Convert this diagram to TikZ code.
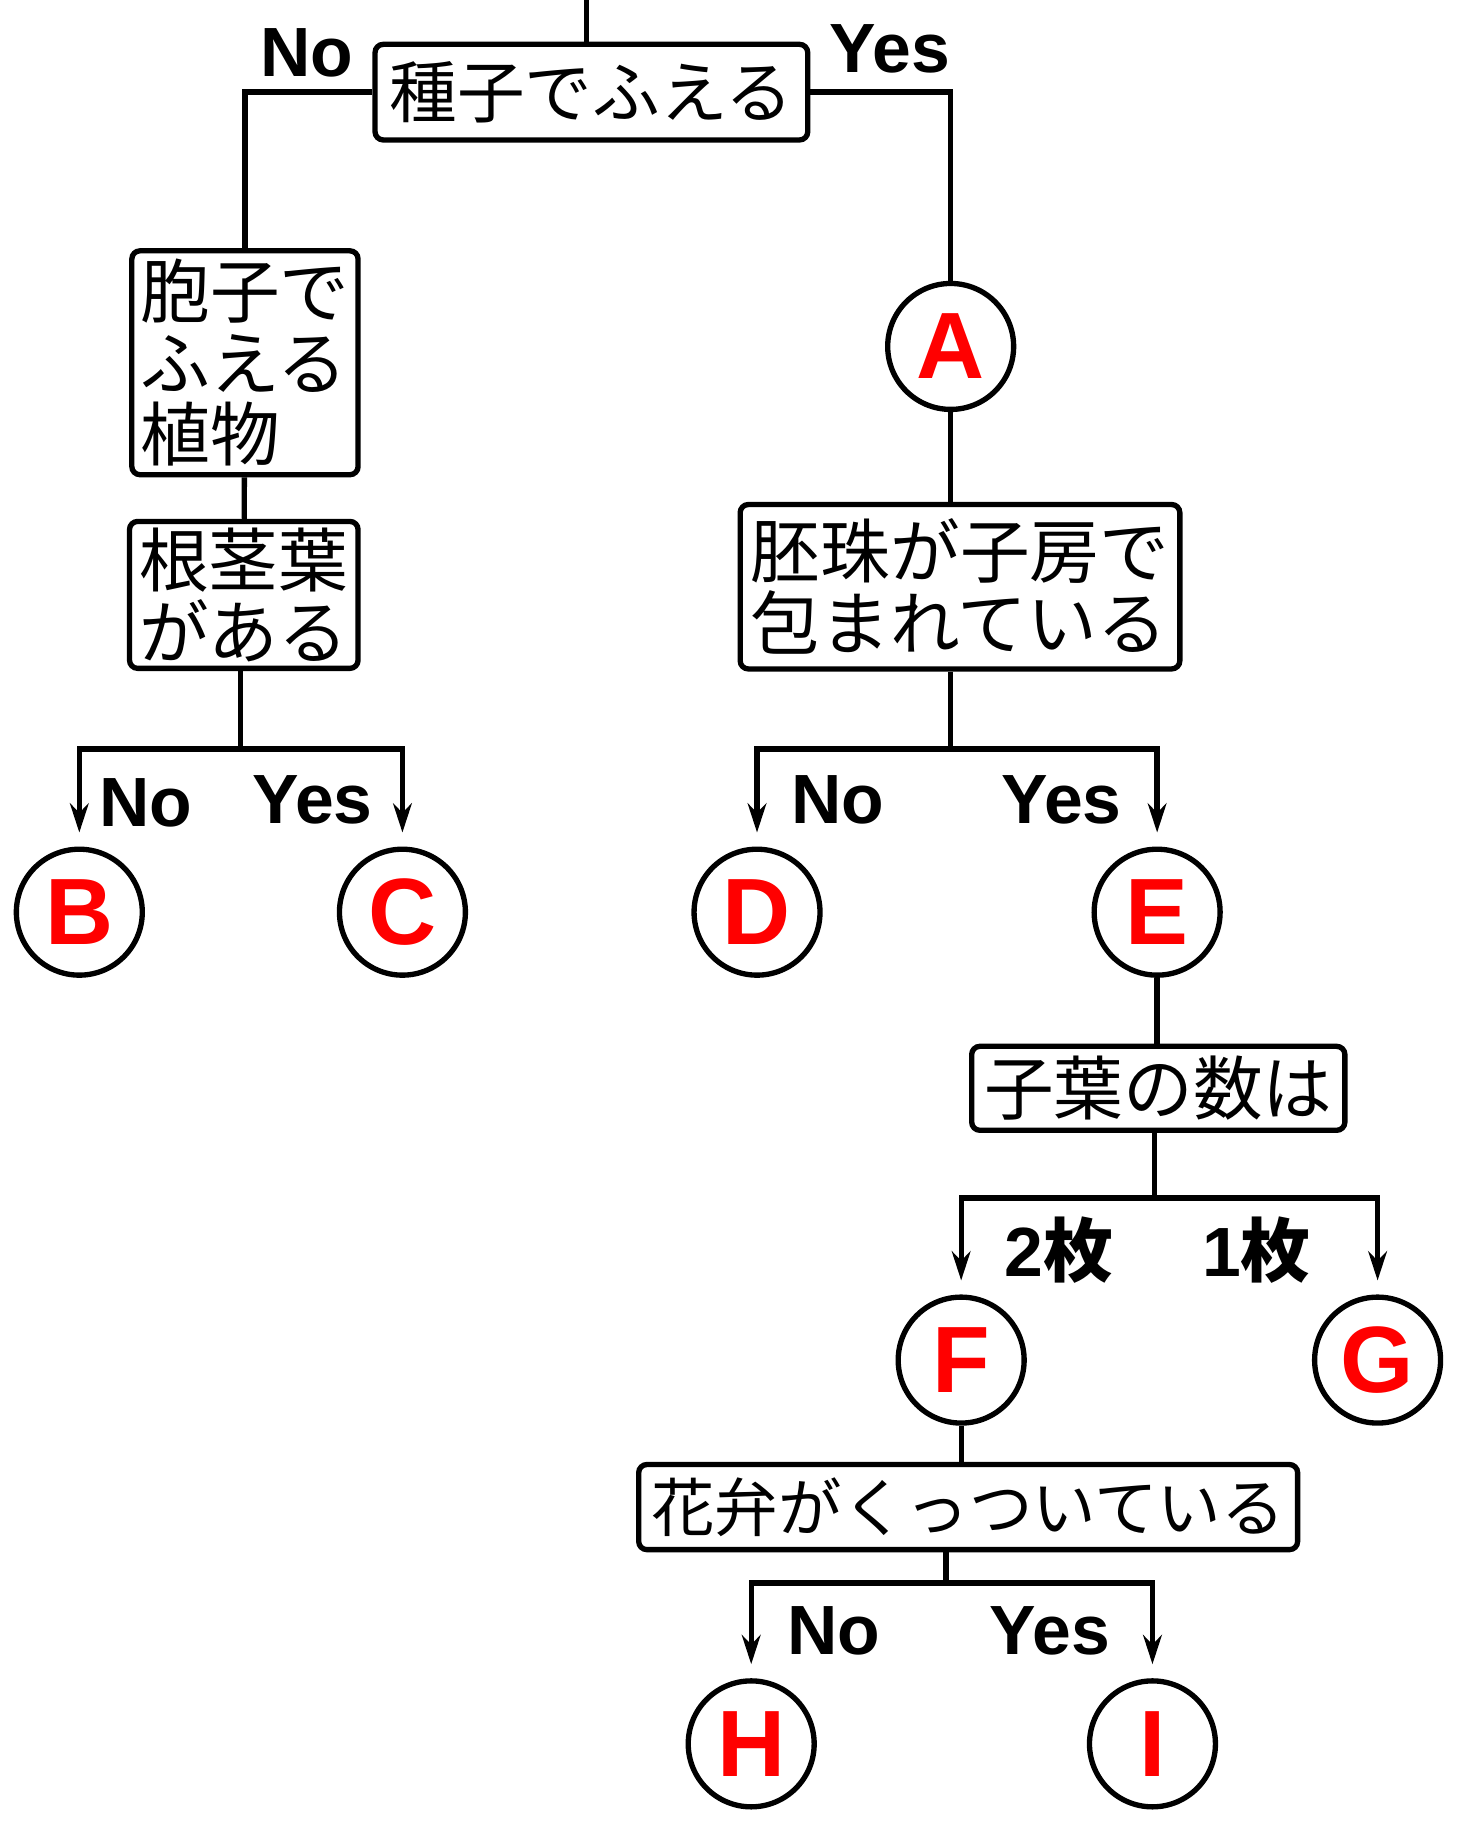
\documentclass[tikz,border=0pt]{standalone}
\usepackage{fontspec}
\setsansfont{Liberation Sans}
\newfontfamily\jpfont{Noto Sans CJK JP}
\usetikzlibrary{arrows.meta, positioning}
\tikzset{
  >={Stealth[length=0.5cm,width=0.32cm]},
  wire/.style={line width=2.6pt},
  branch/.style={wire, ->, shorten >=0.24cm},
  query/.style={draw, line width=2.6pt, rounded corners=4pt, inner sep=0pt,
    align=left, font=\jpfont\fontsize{34}{35}\selectfont},
  leaf/.style={circle, draw, line width=2.6pt, minimum size=2.16cm, inner sep=0pt,
    text=red, font=\sffamily\bfseries\fontsize{46}{46}\selectfont},
  ans/.style={font=\sffamily\bfseries\fontsize{34}{34}\selectfont},
}

\begin{document}
\begin{tikzpicture}[x=0.02cm, y=-0.02cm]
  \useasboundingbox (0,0) rectangle (1263,1568);

  % questions
  \node[query, minimum width=7.42cm, minimum height=1.64cm,
        font=\jpfont\fontsize{33}{35}\selectfont] (seed) at (507,79) {種子でふえる};
  \node[query, minimum width=3.88cm, minimum height=3.84cm] (spore) at (210,311) {胞子で\\ふえる\\植物};
  \node[query, minimum width=3.92cm, minimum height=2.52cm] (root) at (209,510) {根茎葉\\がある};
  \node[query, minimum width=7.54cm, minimum height=2.82cm] (ovule) at (823,503) {胚珠が子房で\\包まれている};
  \node[query, minimum width=6.40cm, minimum height=1.44cm] (leaves) at (993,933) {子葉の数は};
  \node[query, minimum width=11.30cm, minimum height=1.46cm,
        font=\jpfont\fontsize{31}{35}\selectfont] (petal) at (830,1292) {花弁がくっついている};

  % answers
  \node[leaf] (A) at (815,297) {A};
  \node[leaf] (B) at (68,782) {B};
  \node[leaf] (C) at (345,782) {C};
  \node[leaf] (D) at (649,782) {D};
  \node[leaf] (E) at (992,782) {E};
  \node[leaf] (F) at (824,1166) {F};
  \node[leaf] (G) at (1181,1166) {G};
  \node[leaf] (H) at (644,1495) {H};
  \node[leaf] (I) at (988,1495) {I};

  % branch labels
  \node[ans] (no1) at (263,45) {No};
  \node[ans] (yes1) at (763,42) {Yes};
  \node[ans] (no2) at (125,688) {No};
  \node[ans] (yes2) at (268,686) {Yes};
  \node[ans] (no3) at (718,686) {No};
  \node[ans] (yes3) at (910,686) {Yes};
  \node[ans] (two) at (908,1072) {2{\jpfont\bfseries 枚}};
  \node[ans] (one) at (1077,1072) {1{\jpfont\bfseries 枚}};
  \node[ans] (no4) at (715,1398) {No};
  \node[ans] (yes4) at (900,1398) {Yes};

  % forks
  \coordinate (top) at (503,0);
  \coordinate (rootfork) at (206,642);
  \coordinate (ovulefork) at (815,642);
  \coordinate (leafork) at (990,1027);
  \coordinate (petalfork) at (811,1357);

  \draw[wire] (top) -- (top |- seed.north);
  \draw[wire] (seed.west) -| (spore);
  \draw[wire] (seed.east) -| (A);
  \draw[wire] (spore) -- (root);
  \draw[wire] (root.south -| rootfork) -- (rootfork);
  \draw[branch] (rootfork) -| (B);
  \draw[branch] (rootfork) -| (C);

  \draw[wire] (A) -- (A |- ovule.north);
  \draw[wire] (ovule.south -| ovulefork) -- (ovulefork);
  \draw[branch] (ovulefork) -| (D);
  \draw[branch] (ovulefork) -| (E);

  \draw[wire] (E) -- (E |- leaves.north);
  \draw[wire] (leaves.south -| leafork) -- (leafork);
  \draw[branch] (leafork) -| (F);
  \draw[branch] (leafork) -| (G);

  \draw[wire] (F) -- (F |- petal.north);
  \draw[wire] (petal.south -| petalfork) -- (petalfork);
  \draw[branch] (petalfork) -| (H);
  \draw[branch] (petalfork) -| (I);
\end{tikzpicture}
\end{document}
